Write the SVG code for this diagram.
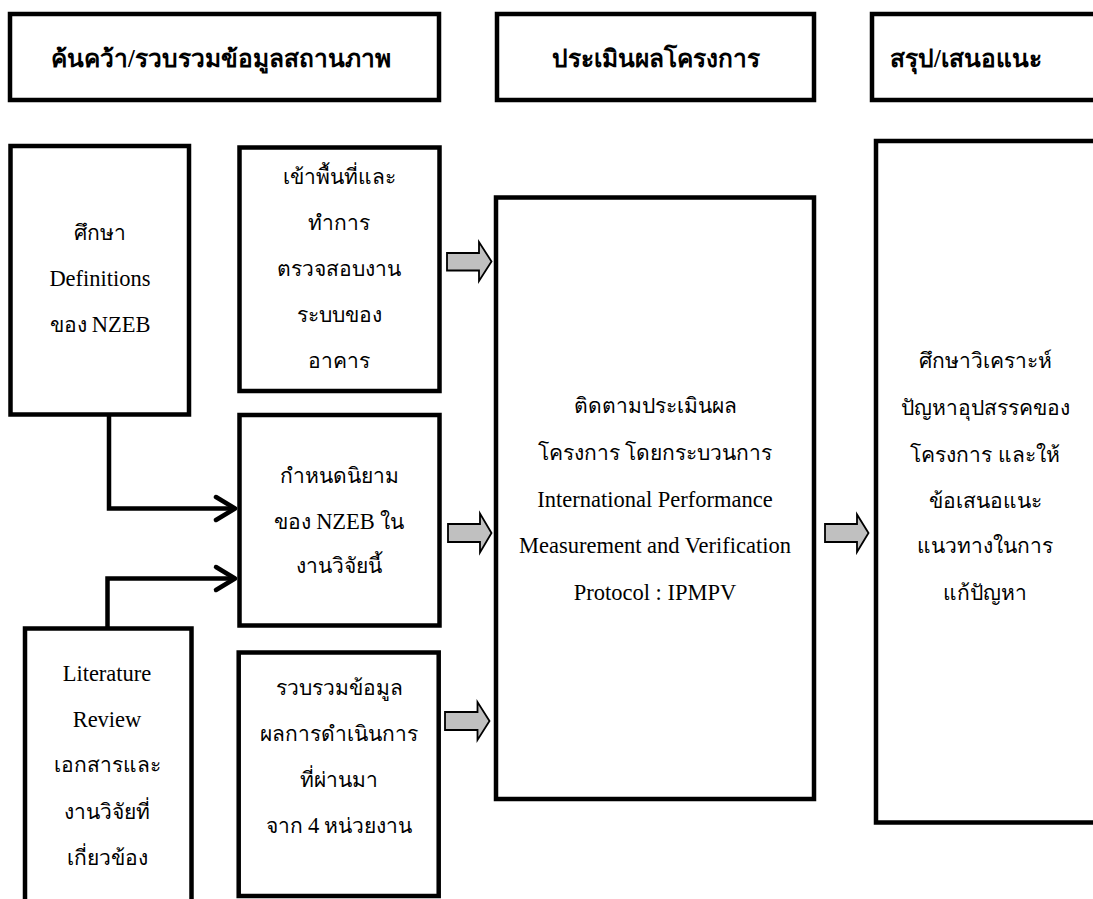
<svg xmlns="http://www.w3.org/2000/svg" width="1093" height="899" viewBox="0 0 1093 899">
<style>
.box{fill:#fff;stroke:#000;stroke-width:4.5}
.hd{font-family:"Liberation Serif","Noto Sans",serif;font-size:24.5px;font-weight:bold;text-anchor:middle;fill:#000}
.t{font-family:"Liberation Serif","Noto Sans",serif;font-size:21px;text-anchor:middle;fill:#000}
.e{font-size:22.5px}
.ln{fill:none;stroke:#000;stroke-width:4.5;stroke-linejoin:miter}
.ah{fill:none;stroke:#000;stroke-width:4.5;stroke-linecap:round;stroke-linejoin:round}
.ba{fill:#c0c0c0;stroke:#000;stroke-width:1.8;stroke-linejoin:miter}
</style>
<rect width="1093" height="899" fill="#fff"/>
<g id="header1"><rect class="box" x="10" y="14" width="429" height="86"/><text class="hd" x="221" y="67">ค้นคว้า/รวบรวมข้อมูลสถานภาพ</text></g>
<g id="header2"><rect class="box" x="497" y="14" width="317" height="86"/><text class="hd" x="656" y="67">ประเมินผลโครงการ</text></g>
<g id="header3"><rect class="box" x="872" y="14" width="240" height="86"/><text class="hd" x="966" y="67">สรุป/เสนอแนะ</text></g>
<g id="n-define"><rect class="box" x="10.5" y="146" width="178.5" height="268.5"/>
<text class="t" x="100" y="240">ศึกษา</text><text class="t e" x="100" y="286">Definitions</text><text class="t" x="100" y="332">ของ <tspan class="e">NZEB</tspan></text></g>
<g id="n-site"><rect class="box" x="239.5" y="147.5" width="200" height="243.5"/>
<text class="t" x="339" y="184">เข้าพื้นที่และ</text><text class="t" x="339" y="230">ทำการ</text><text class="t" x="339" y="276">ตรวจสอบงาน</text><text class="t" x="339" y="322">ระบบของ</text><text class="t" x="339" y="368">อาคาร</text></g>
<g id="n-nzeb"><rect class="box" x="239.5" y="415" width="200" height="210.5"/>
<text class="t" x="339" y="483">กำหนดนิยาม</text><text class="t" x="339" y="529">ของ <tspan class="e">NZEB</tspan> ใน</text><text class="t" x="339" y="573">งานวิจัยนี้</text></g>
<g id="n-collect"><rect class="box" x="238.7" y="652.5" width="200" height="243.5"/>
<text class="t" x="339" y="695">รวบรวมข้อมูล</text><text class="t" x="339" y="741">ผลการดำเนินการ</text><text class="t" x="339" y="787">ที่ผ่านมา</text><text class="t" x="339" y="833">จาก <tspan class="e">4</tspan> หน่วยงาน</text></g>
<g id="n-lit"><rect class="box" x="25" y="628.5" width="166.5" height="300"/>
<text class="t e" x="107" y="681">Literature</text><text class="t e" x="107" y="727">Review</text><text class="t" x="107" y="772">เอกสารและ</text><text class="t" x="107" y="819">งานวิจัยที่</text><text class="t" x="107" y="865">เกี่ยวข้อง</text></g>
<g id="n-ipmvp"><rect class="box" x="496" y="197.5" width="318" height="601.5"/>
<text class="t" x="655" y="413">ติดตามประเมินผล</text><text class="t" x="655" y="460">โครงการ โดยกระบวนการ</text><text class="t e" x="655" y="507">International Performance</text><text class="t e" x="655" y="553">Measurement and Verification</text><text class="t e" x="655" y="600">Protocol : IPMPV</text></g>
<g id="n-conclude"><rect class="box" x="876" y="141" width="220" height="681.5"/>
<text class="t" x="985" y="368">ศึกษาวิเคราะห์</text><text class="t" x="985" y="415">ปัญหาอุปสรรคของ</text><text class="t" x="985" y="462">โครงการ และให้</text><text class="t" x="985" y="508">ข้อเสนอแนะ</text><text class="t" x="985" y="553">แนวทางในการ</text><text class="t" x="985" y="600">แก้ปัญหา</text></g>
<g id="connectors">
<polyline class="ln" points="109,414.5 109,508.5 234,508.5"/>
<polyline class="ah" points="216,497 235,508.5 216,520"/>
<polyline class="ln" points="107.5,628.5 107.5,578.5 234,578.5"/>
<polyline class="ah" points="216,567 235,578.5 216,590"/>
<polygon class="ba" points="447,253 479,253 479,242 491.5,261.5 479,281 479,270.5 447,270.5"/>
<polygon class="ba" points="448,524 480,524 480,513.5 491.5,533 480,552.5 480,542 448,542"/>
<polygon class="ba" points="445,712 477.5,712 477.5,702 489.5,721 477.5,740 477.5,730 445,730"/>
<polygon class="ba" points="825,524 857,524 857,514.5 868.5,533 857,552 857,542 825,542"/>
</g>
</svg>
